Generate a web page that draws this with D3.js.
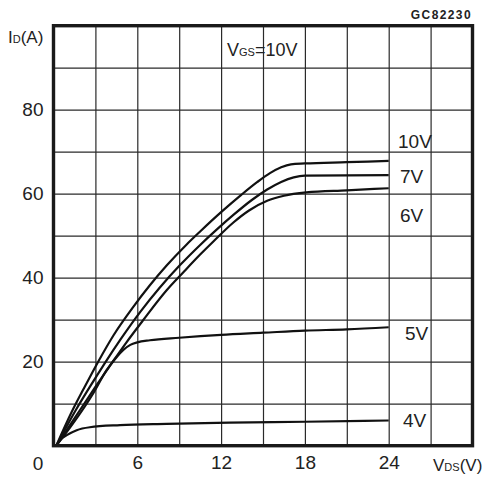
<!DOCTYPE html>
<html>
<head>
<meta charset="utf-8">
<script src="https://cdn.jsdelivr.net/npm/d3@7"></script>
<style>
  html, body { margin: 0; padding: 0; background: #fff; }
  text { font-family: "Liberation Sans", Arial, sans-serif; fill: #222; }
</style>
</head>
<body>
<svg id="chart" width="492" height="478"></svg>
<script>
// ---- Data ----
const xTicks = [6, 12, 18, 24];
const yTicks = [20, 40, 60, 80];
const curveNames = ["10V", "7V", "6V", "5V", "4V"];

const vds10 = [0.2, 1.3, 2.2, 3.2, 4.3, 5.7, 6.9, 8.1, 9.5, 10.5, 12.0, 13.4, 14.6, 15.5, 16.3, 17.0, 18, 21, 24];
const id10  = [0,   8.0, 13.8, 20, 26.3, 33, 38.2, 42.9, 47.8, 51, 55.6, 59.6, 62.8, 64.9, 66.3, 67.0, 67.2, 67.5, 67.8];

const vds7 = [0.2, 1.6, 2.6, 3.7, 4.8, 6.2, 7.6, 9.06, 10.5, 11.7, 12.9, 14.2, 15.3, 16.3, 17.2, 18, 24];
const id7  = [0,   8.5, 14,  19.8, 25.3, 31.8, 37.6, 43, 47.8, 51.5, 55, 58.5, 61, 62.8, 63.9, 64.3, 64.4];

const vds6 = [0.2, 1.9, 3.0, 4.2, 5.2, 6.4, 8.1, 9.3, 10.5, 11.5, 12.9, 14.0, 15.3, 16.5, 18.1, 21, 24];
const id6  = [0,   8.5, 14,  19.8, 24.5, 29.8, 37, 41.3, 45.5, 48.8, 53.2, 56, 58.3, 59.5, 60.3, 60.8, 61.3];

const vds5 = [0.2, 1.4, 2.85, 3.8, 4.5, 5.0, 5.5, 6.0, 6.9, 9, 12, 15, 18, 21, 24];
const id5  = [0,   5.3, 12.5, 18,  21,  22.8, 24, 24.6, 25.1, 25.7, 26.4, 26.9, 27.4, 27.7, 28.2];

const vds4 = [0.2, 0.5, 0.95, 1.66, 2.6, 4.76, 8.1, 12.6, 18, 24];
const id4  = [0,   1.4, 2.5,  3.7,  4.4, 4.9,  5.2, 5.5,  5.7, 6.0];

// ---- Chart ----
const svg = d3.select("#chart");
const x = d3.scaleLinear().domain([0, 30]).range([53.5, 472.5]);
const y = d3.scaleLinear().domain([0, 100]).range([445.7, 25.7]);

// grid
const gridX = d3.range(3, 30, 3);
const gridY = d3.range(10, 100, 10);
svg.append("g")
  .attr("transform", `translate(0,${y(0)})`)
  .call(d3.axisBottom(x).tickValues(gridX).tickSize(-(y(0) - y(100))).tickFormat(""))
  .call(g => g.select(".domain").remove())
  .call(g => g.selectAll("line").attr("stroke", "#2a2a2a").attr("stroke-width", 1.2));
svg.append("g")
  .attr("transform", `translate(${x(0)},0)`)
  .call(d3.axisLeft(y).tickValues(gridY).tickSize(-(x(30) - x(0))).tickFormat(""))
  .call(g => g.select(".domain").remove())
  .call(g => g.selectAll("line").attr("stroke", "#2a2a2a").attr("stroke-width", 1.2));

// curves
const series = [
  [vds10, id10], [vds7, id7], [vds6, id6], [vds5, id5], [vds4, id4]
];
const line = d3.line()
  .x(d => x(d[0])).y(d => y(d[1]))
  .curve(d3.curveMonotoneX);
series.forEach(([vs, is]) => {
  const pts = vs.map((v, i) => [v, is[i]]);
  svg.append("path")
    .attr("d", line(pts))
    .attr("fill", "none")
    .attr("stroke", "#111")
    .attr("stroke-width", 2.2)
    .attr("stroke-linejoin", "round");
});

// frame
svg.append("rect")
  .attr("x", x(0)).attr("y", y(100))
  .attr("width", x(30) - x(0)).attr("height", y(0) - y(100))
  .attr("fill", "none").attr("stroke", "#1a1a1a").attr("stroke-width", 3.4);

// axis tick labels
const yAxis = svg.append("g")
  .attr("transform", `translate(${x(0)},0)`)
  .call(d3.axisLeft(y).tickValues(yTicks).tickSize(0).tickPadding(10));
yAxis.select(".domain").remove();
yAxis.selectAll("text").style("font-size", "19px").style("font-family", "Liberation Sans, Arial, sans-serif").attr("fill", "#222");

const xAxis = svg.append("g")
  .attr("transform", `translate(0,${y(0)})`)
  .call(d3.axisBottom(x).tickValues(xTicks).tickSize(0).tickPadding(10));
xAxis.select(".domain").remove();
xAxis.selectAll("text").style("font-size", "19px").style("font-family", "Liberation Sans, Arial, sans-serif").attr("fill", "#222");

svg.append("text").attr("x", 38).attr("y", 469.5).attr("text-anchor", "middle")
  .style("font-size", "19px").text("0");

// curve labels
const labelPos = [
  { t: curveNames[0], x: 398, y: 148 },
  { t: curveNames[1], x: 400, y: 183 },
  { t: curveNames[2], x: 400, y: 222 },
  { t: curveNames[3], x: 405, y: 340 },
  { t: curveNames[4], x: 403, y: 427 }
];
labelPos.forEach(l => {
  svg.append("text").attr("x", l.x).attr("y", l.y)
    .style("font-size", "19px").text(l.t);
});

// VGS annotation
const vgs = svg.append("text").attr("x", 227).attr("y", 56).style("font-size", "18px");
vgs.append("tspan").text("V");
vgs.append("tspan").style("font-size", "11px").text("GS");
vgs.append("tspan").text("=10V");

// axis titles
const yt = svg.append("text").attr("x", 8).attr("y", 43).style("font-size", "17px");
yt.append("tspan").text("I");
yt.append("tspan").style("font-size", "11px").text("D");
yt.append("tspan").text("(A)");

const xt = svg.append("text").attr("x", 433).attr("y", 471).style("font-size", "17px");
xt.append("tspan").text("V");
xt.append("tspan").style("font-size", "11px").text("DS");
xt.append("tspan").text("(V)");

// code label
svg.append("text").attr("x", 472).attr("y", 18.5).attr("text-anchor", "end")
  .style("font-size", "12px").style("font-weight", "bold").style("letter-spacing", "1.4px")
  .attr("fill", "#333").text("GC82230");
</script>
</body>
</html>
